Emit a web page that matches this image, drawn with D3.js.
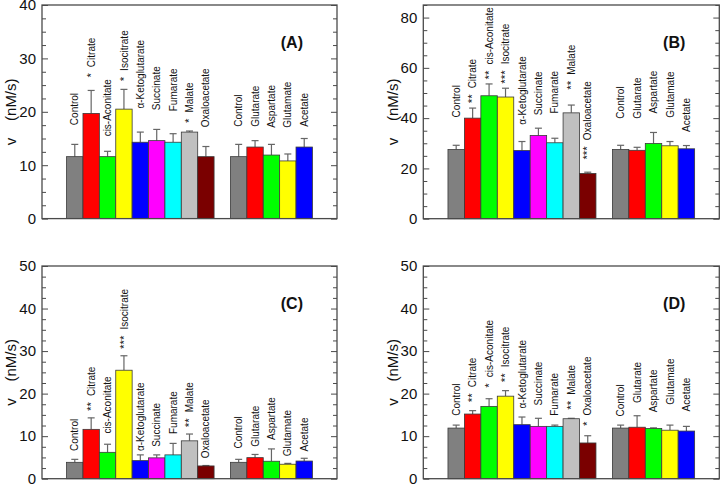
<!DOCTYPE html>
<html>
<head>
<meta charset="utf-8">
<script src="https://cdn.jsdelivr.net/npm/d3@7"></script>
<style>
  html, body { margin: 0; padding: 0; background: #fff; }
  svg { display: block; font-family: "Liberation Sans", Arial, sans-serif; }
</style>
</head>
<body>
<svg id="chart" width="720" height="484"></svg>
<script>
// ---------------- data ----------------
const categories = ["Control", "Citrate", "cis-Aconitate", "Isocitrate", "α-Ketoglutarate",
  "Succinate", "Fumarate", "Malate", "Oxaloacetate",
  "Control", "Glutarate", "Aspartate", "Glutamate", "Acetate"];
const groupOf = [0, 0, 0, 0, 0, 0, 0, 0, 0, 1, 1, 1, 1, 1];

const panelNames = ["(A)", "(B)", "(C)", "(D)"];
const yMax = [40, 85, 50, 50];
const yMajorTicks = [[0, 10, 20, 30, 40], [0, 20, 40, 60, 80], [0, 10, 20, 30, 40, 50], [0, 10, 20, 30, 40, 50]];
const yMinorStep = [2.5, 5, 2.5, 2.5];

const valuesA = [11.6, 19.7, 11.6, 20.5, 14.3, 14.6, 14.3, 16.2, 11.6, 11.6, 13.4, 11.9, 10.8, 13.4];
const errorsA = [2.3, 4.3, 1.0, 3.7, 1.9, 2.1, 1.6, 0.2, 1.9, 2.3, 1.2, 2.0, 1.3, 1.6];
const starsA = ["", "*", "", "*", "", "", "", "*", "", "", "", "", "", ""];
const labelAtA = [17.5, 26.4, 15.4, 25.7, 20.6, 20.3, 20.1, 17.9, 17.1, 17.2, 17.2, 17.0, 17.0, 17.2];

const valuesB = [27.5, 40.0, 48.9, 48.4, 27.1, 33.1, 30.2, 42.1, 18.0, 27.5, 27.2, 29.9, 29.0, 27.8];
const errorsB = [1.7, 4.0, 4.7, 3.5, 3.6, 2.9, 1.8, 3.1, 0.5, 1.7, 1.2, 4.4, 1.7, 1.3];
const starsB = ["", "**", "**", "***", "", "", "", "**", "***", "", "", "", "", ""];
const labelAtB = [40.3, 45.9, 55.4, 53.7, 37.4, 41.1, 41.8, 51.3, 23.5, 39.8, 39.8, 41.8, 40.2, 34.5];

const valuesC = [3.85, 11.6, 6.2, 25.5, 4.25, 4.9, 5.6, 8.9, 3.0, 3.85, 4.95, 4.1, 3.4, 4.15];
const errorsC = [0.7, 2.7, 1.9, 3.4, 1.35, 0.7, 2.7, 1.6, 0.1, 0.7, 0.75, 2.9, 0.2, 0.65];
const starsC = ["", "**", "", "***", "", "", "", "**", "", "", "", "", "", ""];
const labelAtC = [6.5, 15.9, 10.6, 30.5, 6.5, 7.5, 10.5, 12.1, 4.8, 7.1, 7.5, 9.1, 5.3, 6.4];

const valuesD = [11.9, 15.2, 17.0, 19.4, 12.7, 12.3, 12.3, 14.1, 8.4, 11.9, 12.1, 11.8, 11.4, 11.2];
const errorsD = [0.7, 0.8, 1.8, 1.3, 1.8, 1.9, 0.3, 0.1, 1.7, 0.7, 2.7, 0.15, 1.2, 1.1];
const starsD = ["", "**", "*", "**", "", "", "", "**", "*", "", "", "", "", ""];
const labelAtD = [14.8, 18.0, 21.4, 22.7, 16.5, 17.2, 14.8, 16.2, 12.4, 14.6, 17.8, 15.6, 17.4, 15.8];

const palette = ["#808080", "#ff0000", "#00ff00", "#ffff00", "#0000ff", "#ff00ff", "#00ffff", "#c0c0c0", "#7a0000",
  "#808080", "#ff0000", "#00ff00", "#ffff00", "#0000ff"];

// ---------------- layout ----------------
const frames = [
  { left: 42, right: 337, top: 5, bottom: 218.6 },
  { left: 423.3, right: 719.3, top: 5, bottom: 218.7 },
  { left: 42, right: 337, top: 266, bottom: 478.7 },
  { left: 423.3, right: 719.3, top: 266, bottom: 478.7 }
];
const panelData = [
  { values: valuesA, errors: errorsA, stars: starsA, labelAt: labelAtA },
  { values: valuesB, errors: errorsB, stars: starsB, labelAt: labelAtB },
  { values: valuesC, errors: errorsC, stars: starsC, labelAt: labelAtC },
  { values: valuesD, errors: errorsD, stars: starsD, labelAt: labelAtD }
];

const svg = d3.select("#chart");
const axisColor = "#4a4a4a";

// slot index: 1.5 leading slots, 9 bars, 1 gap slot, 5 bars, 1.5 trailing slots
const slotOf = categories.map((c, i) => 1.5 + i + groupOf[i]);

panelData.forEach((pd, p) => {
  const f = frames[p];
  const g = svg.append("g");
  const x = d3.scaleLinear().domain([0, 18]).range([f.left, f.right]);
  const y = d3.scaleLinear().domain([0, yMax[p]]).range([f.bottom, f.top]);
  const minor = d3.range(0, yMax[p] + 1e-9, yMinorStep[p]).filter(v => !yMajorTicks[p].includes(v));

  const rows = categories.map((c, i) => ({
    name: c, v: pd.values[i], e: pd.errors[i], s: pd.stars[i], at: pd.labelAt[i], slot: slotOf[i], color: palette[i]
  }));

  // error bars (upper only)
  const eb = g.append("g").attr("stroke", "#666").attr("stroke-width", 1.2);
  rows.forEach(r => {
    const cx = x(r.slot + 0.5);
    eb.append("line").attr("x1", cx).attr("x2", cx).attr("y1", y(r.v)).attr("y2", y(r.v + r.e));
    eb.append("line").attr("x1", cx - 3.5).attr("x2", cx + 3.5).attr("y1", y(r.v + r.e)).attr("y2", y(r.v + r.e));
  });

  // bars
  g.append("g").selectAll("rect").data(rows).join("rect")
    .attr("x", d => x(d.slot))
    .attr("width", d => x(d.slot + 1) - x(d.slot))
    .attr("y", d => y(d.v))
    .attr("height", d => y(0) - y(d.v))
    .attr("fill", d => d.color)
    .attr("stroke", "#3a3a3a")
    .attr("stroke-width", 0.8);

  // rotated labels (stars + name)
  rows.forEach(r => {
    const cx = x(r.slot + 0.5);
    const t = g.append("text")
      .attr("transform", `translate(${cx + 3.6},${y(r.at)}) rotate(-90)`)
      .attr("font-size", 10)
      .attr("fill", "#111");
    if (r.s) {
      t.append("tspan").attr("font-size", 11.5).text(r.s);
      t.append("tspan").attr("dx", 6).text(r.name);
    } else {
      t.append("tspan").text(r.name);
    }
  });

  // axes ticks (inward on left and right)
  const axL = d3.axisLeft(y).tickValues(yMajorTicks[p]).tickSize(-6).tickPadding(6).tickFormat(d3.format("d"));
  const axLm = d3.axisLeft(y).tickValues(minor).tickSize(-4).tickFormat("");
  const axR = d3.axisRight(y).tickValues(yMajorTicks[p]).tickSize(-6).tickFormat("");
  const axRm = d3.axisRight(y).tickValues(minor).tickSize(-4).tickFormat("");

  const gl = g.append("g").attr("transform", `translate(${f.left},0)`).call(axL);
  g.append("g").attr("transform", `translate(${f.left},0)`).call(axLm);
  g.append("g").attr("transform", `translate(${f.right},0)`).call(axR);
  g.append("g").attr("transform", `translate(${f.right},0)`).call(axRm);
  g.selectAll(".domain").remove();
  g.selectAll(".tick line").attr("stroke", axisColor).attr("stroke-width", 1);
  gl.selectAll(".tick text").attr("font-size", 15).attr("fill", "#111")
    .attr("font-family", "'Liberation Sans', Arial, sans-serif");

  // frame
  g.append("rect")
    .attr("x", f.left).attr("y", f.top)
    .attr("width", f.right - f.left).attr("height", f.bottom - f.top)
    .attr("fill", "none").attr("stroke", axisColor).attr("stroke-width", 1.3);

  // y-axis title
  g.append("text")
    .attr("transform", `translate(${f.left - 31},${(f.top + f.bottom) / 2}) rotate(-90)`)
    .attr("text-anchor", "middle")
    .attr("dy", "0.35em")
    .attr("font-size", 15)
    .attr("fill", "#111")
    .style("white-space", "pre")
    .text("v    (nM/s)");

  // panel tag
  g.append("text")
    .attr("x", f.right - 34)
    .attr("y", f.top + 43)
    .attr("text-anchor", "end")
    .attr("font-size", 16)
    .attr("font-weight", "bold")
    .attr("fill", "#111")
    .text(panelNames[p]);
});
</script>
</body>
</html>
